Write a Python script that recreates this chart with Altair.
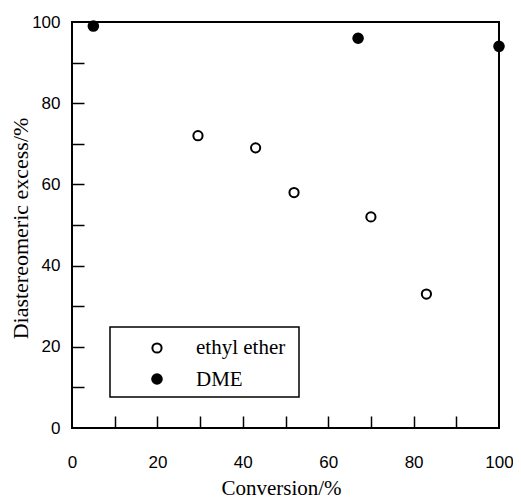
import altair as alt
import pandas as pd

# Data
ether_conv = [29.5, 43, 52, 70, 83]
ether_de = [72, 69, 58, 52, 33]
dme_conv = [5, 67, 100]
dme_de = [99, 96, 94]
series_names = ["ethyl ether", "DME"]
label_ticks = [0, 20, 40, 60, 80, 100]
minor_ticks = [10, 20, 30, 40, 50, 60, 70, 80, 90]

ether = pd.DataFrame({"conv": ether_conv, "de": ether_de, "solvent": series_names[0]})
dme = pd.DataFrame({"conv": dme_conv, "de": dme_de, "solvent": series_names[1]})

W, H = 427, 406
SERIF = "Liberation Serif"
SANS = "Liberation Sans"

xscale = alt.Scale(domain=[0, 100], nice=False, zero=False)
yscale = alt.Scale(domain=[0, 100], nice=False, zero=False)

label_x_axis = alt.Axis(
    orient="bottom", values=label_ticks, ticks=False, tickSize=0, domain=False, grid=False,
    labelFont=SANS, labelFontSize=17, labelColor="black", labelPadding=39,
    labelBaseline="alphabetic", labelFlush=False,
    title="Conversion/%", titleFont=SERIF, titleFontSize=21, titleFontWeight="normal",
    titleColor="black", titleX=209, titleY=66, titleAlign="center", titleBaseline="alphabetic",
)
label_y_axis = alt.Axis(
    orient="left", values=label_ticks, ticks=False, tickSize=0, domain=False, grid=False,
    labelFont=SANS, labelFontSize=17, labelColor="black", labelPadding=12, labelFlush=False,
    title="Diastereomeric excess/%", titleFont=SERIF, titleFontSize=22, titleFontWeight="normal",
    titleColor="black", titleX=-52, titleY=206, titleAngle=270, titleAlign="center",
    titleBaseline="middle",
)
tick_x_axis = alt.Axis(
    orient="top", offset=-H, values=minor_ticks, labels=False, domain=False, grid=False,
    ticks=True, tickSize=12, tickWidth=1.5, tickColor="black", title=None,
)
tick_y_axis = alt.Axis(
    orient="right", offset=-W, values=minor_ticks, labels=False, domain=False, grid=False,
    ticks=True, tickSize=12, tickWidth=1.5, tickColor="black", title=None,
)

ether_layer = alt.Chart(ether).mark_point(
    shape="circle", filled=False, size=85, stroke="black", strokeWidth=2, opacity=1
).encode(
    x=alt.X("conv:Q", scale=xscale, axis=label_x_axis),
    y=alt.Y("de:Q", scale=yscale, axis=label_y_axis),
)

dme_layer = alt.Chart(dme).mark_circle(size=135, color="black", opacity=1).encode(
    x=alt.X("conv:Q", scale=xscale, axis=tick_x_axis),
    y=alt.Y("de:Q", scale=yscale, axis=tick_y_axis),
)

# Legend box (drawn manually inside the plot)
one = pd.DataFrame({"k": [0]})
legend_box = alt.Chart(one).mark_rect(
    fill="white", stroke="black", strokeWidth=1.5
).encode(
    x=alt.value(38), x2=alt.value(227), y=alt.value(305), y2=alt.value(375)
)
leg_sym1 = alt.Chart(one).mark_point(
    shape="circle", filled=False, size=85, stroke="black", strokeWidth=2, opacity=1
).encode(x=alt.value(85), y=alt.value(326))
leg_sym2 = alt.Chart(one).mark_circle(size=135, color="black", opacity=1).encode(
    x=alt.value(85), y=alt.value(357)
)
leg_txt1 = alt.Chart(one).mark_text(
    text=series_names[0], font=SERIF, fontSize=21, align="left", baseline="alphabetic", color="black"
).encode(x=alt.value(124), y=alt.value(332))
leg_txt2 = alt.Chart(one).mark_text(
    text=series_names[1], font=SERIF, fontSize=21, align="left", baseline="alphabetic", color="black"
).encode(x=alt.value(124), y=alt.value(364))

chart = alt.layer(
    legend_box, ether_layer, dme_layer, leg_sym1, leg_sym2, leg_txt1, leg_txt2
).resolve_axis(
    x="independent", y="independent"
).properties(
    width=W, height=H,
    autosize=alt.AutoSizeParams(type="none"),
    padding={"left": 64, "top": 14, "right": 14, "bottom": 70},
    background="white",
).configure_view(
    stroke="black", strokeWidth=2
)

chart.save("out.html", embed_options={"renderer": "svg", "actions": False})
